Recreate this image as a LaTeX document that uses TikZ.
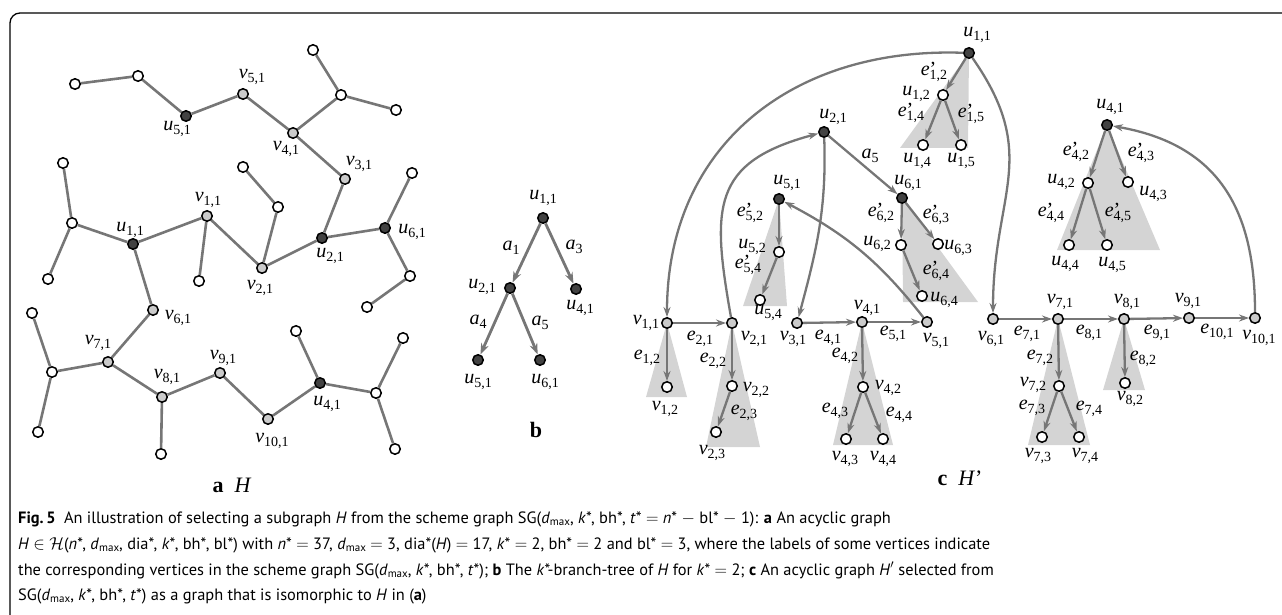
\documentclass[tikz,border=0pt]{standalone}
\usepackage{fontspec}
\setmainfont{Liberation Serif}
\newfontfamily\capfont{PT Sans}
\usetikzlibrary{arrows.meta}
\pgfdeclarelayer{bg}
\pgfsetlayers{bg,main}
\definecolor{edgegray}{RGB}{118,118,118}
\definecolor{nodegray}{RGB}{203,203,203}
\definecolor{nodedark}{RGB}{66,66,66}
\definecolor{trigray}{RGB}{212,212,212}
\newcommand\lfont{\fontsize{20}{20}\selectfont}
\newcommand\lsub[1]{\raisebox{-3.5pt}{\fontsize{14}{14}\selectfont #1}}
\newcommand\lab[2]{\textit{#1}\lsub{#2}}
\newcommand\labp[2]{\textit{#1}\rlap{’}\lsub{#2}}
\newcommand\csub[1]{\raisebox{-2.8pt}{\fontsize{11}{11}\selectfont #1}}
\newcommand\dm{\textit{d}\csub{max}}
\begin{document}
\begin{tikzpicture}[x=1pt,y=-1pt,
  wn/.style={circle,draw=black,line width=1.5pt,fill=white,minimum size=10.5pt,inner sep=0pt},
  gn/.style={wn,fill=nodegray},
  dn/.style={wn,fill=nodedark},
  ed/.style={draw=edgegray,line width=2.6pt},
  ar/.style={draw=edgegray,line width=2.3pt,-{Stealth[length=10pt,width=7pt]}},
  arb/.style={ar,line width=2.8pt,-{Stealth[length=11pt,width=8pt]}},
  tri/.style={fill=trigray,draw=none},
  lb/.style={inner sep=0pt,font=\lfont},
  captext/.style={inner sep=0pt,anchor=base west,font=\capfont\fontsize{16.4}{19}\selectfont}]
\useasboundingbox (0,0) rectangle (1282,615);
\draw[line width=1.3pt,rounded corners=10pt] (10,615) -- (10,13) -- (1282,13);

% ---------------- panel a ----------------
\node[wn] (aw1) at (75,84) {};
\node[wn] (aw2) at (138,76) {};
\node[dn] (au51) at (186,116) {};
\node[gn] (av51) at (243,94) {};
\node[gn] (av41) at (293,133) {};
\node[wn] (aw3) at (313,50) {};
\node[wn] (aw4) at (341,95) {};
\node[wn] (aw5) at (396,110) {};
\node[gn] (av31) at (345,179) {};
\node[wn] (aw6) at (243,167) {};
\node[wn] (aw7) at (278,207) {};
\node[gn] (av11) at (207,216) {};
\node[dn] (au11) at (133,244) {};
\node[wn] (aw8) at (63,163) {};
\node[wn] (aw9) at (72,223) {};
\node[dn] (au21) at (322,238) {};
\node[dn] (au61) at (385,228) {};
\node[wn] (aw10) at (412,173) {};
\node[wn] (aw11) at (410,276) {};
\node[gn] (av21) at (262,268) {};
\node[wn] (aw12) at (48,279) {};
\node[wn] (aw13) at (199,281) {};
\node[wn] (aw14) at (367,307) {};
\node[gn] (av61) at (153,310) {};
\node[wn] (aw15) at (32,313) {};
\node[gn] (av71) at (108,362) {};
\node[wn] (aw16) at (52,372) {};
\node[wn] (aw17) at (38,432) {};
\node[gn] (av81) at (162,397) {};
\node[wn] (aw18) at (161,454) {};
\node[gn] (av91) at (220,373) {};
\node[gn] (av101) at (268,419) {};
\node[dn] (au41) at (320,383) {};
\node[wn] (aw19) at (296,331) {};
\node[wn] (aw20) at (376,393) {};
\node[wn] (aw21) at (403,338) {};
\node[wn] (aw22) at (395,449) {};
\begin{pgfonlayer}{bg}
\foreach \a/\b in {aw1/aw2,aw2/au51,au51/av51,av51/av41,av41/aw4,aw4/aw3,aw4/aw5,
  av41/av31,av31/au21,au21/au61,au61/aw10,au61/aw11,aw11/aw14,au21/av21,av21/aw7,aw7/aw6,
  av21/av11,av11/aw13,av11/au11,au11/aw9,aw9/aw8,aw9/aw12,au11/av61,av61/av71,av71/aw16,
  aw16/aw15,aw16/aw17,av71/av81,av81/aw18,av81/av91,av91/av101,av101/au41,au41/aw19,
  au41/aw20,aw20/aw21,aw20/aw22}
  \draw[ed] (\a) -- (\b);
\end{pgfonlayer}
\node[lb] (la_u51) at (177,129) {\lab{u}{5,1}};
\node[lb] (la_v51) at (252,77) {\lab{v}{5,1}};
\node[lb] (la_v41) at (286,149) {\lab{v}{4,1}};
\node[lb] (la_v31) at (359,164) {\lab{v}{3,1}};
\node[lb] (la_v11) at (208,200) {\lab{v}{1,1}};
\node[lb] (la_u11) at (130,230) {\lab{u}{1,1}};
\node[lb] (la_u21) at (330,256) {\lab{u}{2,1}};
\node[lb] (la_u61) at (412,232) {\lab{u}{6,1}};
\node[lb] (la_v21) at (260,288) {\lab{v}{2,1}};
\node[lb] (la_v61) at (178,318) {\lab{v}{6,1}};
\node[lb] (la_v71) at (98,343) {\lab{v}{7,1}};
\node[lb] (la_v81) at (167,377) {\lab{v}{8,1}};
\node[lb] (la_v91) at (223,358) {\lab{v}{9,1}};
\node[lb] (la_v101) at (272,441) {\lab{v}{10,1}};
\node[lb] (la_u41) at (327,404) {\lab{u}{4,1}};
\node[lb,font=\fontsize{22}{22}\selectfont] (la_title) at (232,485) {\textbf{a}\enskip\textit{H}};

% ---------------- panel b ----------------
\node[dn] (bu11) at (543,218) {};
\node[dn] (bu21) at (510,288) {};
\node[dn] (bu41) at (576,289) {};
\node[dn] (bu51) at (478,360) {};
\node[dn] (bu61) at (540,360) {};
\draw[arb] (bu11) -- (bu21);
\draw[arb] (bu11) -- (bu41);
\draw[arb] (bu21) -- (bu51);
\draw[arb] (bu21) -- (bu61);
\node[lb] (lb_u11) at (543,198) {\lab{u}{1,1}};
\node[lb] (lb_u21) at (482,287) {\lab{u}{2,1}};
\node[lb] (lb_u41) at (580,308) {\lab{u}{4,1}};
\node[lb] (lb_a1) at (511,248) {\lab{a}{1}};
\node[lb] (lb_a3) at (574,247) {\lab{a}{3}};
\node[lb] (lb_a4) at (478,322) {\lab{a}{4}};
\node[lb] (lb_a5) at (540,323) {\lab{a}{5}};
\node[lb] (lb_u51) at (478,382) {\lab{u}{5,1}};
\node[lb] (lb_u61) at (545,382) {\lab{u}{6,1}};
\node[lb,font=\fontsize{22}{22}\selectfont] (lb_title) at (536,430) {\textbf{b}};

% ---------------- panel c ----------------
\begin{pgfonlayer}{bg}
\fill[tri] (969,53) -- (900,148) -- (968,148) -- cycle;
\fill[tri] (1107,125) -- (1057,250) -- (1160,250) -- cycle;
\fill[tri] (902,198) -- (903,302) -- (978,302) -- cycle;
\fill[tri] (779,199) -- (743,306) -- (787,306) -- cycle;
\fill[tri] (667,323) -- (646,397) -- (687,397) -- cycle;
\fill[tri] (732,323) -- (706,447) -- (760,447) -- cycle;
\fill[tri] (862,322) -- (833,445) -- (893,445) -- cycle;
\fill[tri] (1058,319) -- (1028,445) -- (1090,445) -- cycle;
\fill[tri] (1124,319) -- (1103,390) -- (1145,390) -- cycle;
\end{pgfonlayer}
\node[dn] (cu11) at (969,53) {};
\node[wn] (cu12) at (943,95) {};
\node[wn] (cu14) at (923,145) {};
\node[wn] (cu15) at (961,145) {};
\node[dn] (cu41) at (1107,125) {};
\node[wn] (cu42) at (1088,183) {};
\node[wn] (cu43) at (1128,182) {};
\node[wn] (cu44) at (1069,245) {};
\node[wn] (cu45) at (1107,245) {};
\node[dn] (cu21) at (824,132) {};
\node[dn] (cu51) at (779,199) {};
\node[wn] (cu52) at (779,252) {};
\node[wn] (cu54) at (760,300) {};
\node[dn] (cu61) at (902,198) {};
\node[wn] (cu62) at (901,245) {};
\node[wn] (cu63) at (938,244) {};
\node[wn] (cu64) at (922,296) {};
\node[gn] (cv11) at (667,323) {};
\node[wn] (cv12) at (667,387) {};
\node[gn] (cv21) at (732,323) {};
\node[wn] (cv22) at (732,386) {};
\node[wn] (cv23) at (716,432) {};
\node[gn] (cv31) at (797,323) {};
\node[gn] (cv41) at (862,322) {};
\node[wn] (cv42) at (863,387) {};
\node[wn] (cv43) at (846,439) {};
\node[wn] (cv44) at (883,439) {};
\node[gn] (cv51) at (927,322) {};
\node[gn] (cv61) at (993,319) {};
\node[gn] (cv71) at (1058,319) {};
\node[wn] (cv72) at (1059,386) {};
\node[wn] (cv73) at (1042,437) {};
\node[wn] (cv74) at (1079,437) {};
\node[gn] (cv81) at (1124,319) {};
\node[wn] (cv82) at (1125,383) {};
\node[gn] (cv91) at (1189,318) {};
\node[gn] (cv101) at (1255,318) {};
\foreach \a/\b in {cu11/cu12,cu12/cu14,cu12/cu15,cu41/cu42,cu41/cu43,cu42/cu44,cu42/cu45,
  cu21/cu61,cu51/cu52,cu52/cu54,cu61/cu62,cu61/cu63,cu62/cu64,
  cv11/cv21,cv11/cv12,cv21/cv22,cv22/cv23,cv31/cv41,cv41/cv51,cv41/cv42,cv42/cv43,cv42/cv44,
  cv61/cv71,cv71/cv81,cv81/cv91,cv91/cv101,cv71/cv72,cv72/cv73,cv72/cv74,cv81/cv82}
  \draw[ar] (\a) -- (\b);
\draw[ar] (cu11) to[out=178,in=90,looseness=1.1] (cv11);
\draw[ar] (cv21) to[out=100,in=195,looseness=1.4] (cu21);
\draw[ar] (cu21) to[out=-88,in=75] (cv31);
\draw[ar] (cv51) to[bend right=12] (cu51);
\draw[ar] (cu11) to[out=-55,in=90,looseness=1.2] (cv61);
\draw[ar] (cv101) to[out=90,in=-10,looseness=1.15] (cu41);

\node[lb] (lc_u11) at (977,35) {\lab{u}{1,1}};
\node[lb] (lc_e12p) at (934,72) {\labp{e}{1,2}};
\node[lb] (lc_u12) at (916,94) {\lab{u}{1,2}};
\node[lb] (lc_e14p) at (911,113) {\labp{e}{1,4}};
\node[lb] (lc_e15p) at (971,114) {\labp{e}{1,5}};
\node[lb] (lc_u14) at (917,161) {\lab{u}{1,4}};
\node[lb] (lc_u15) at (961,161) {\lab{u}{1,5}};
\node[lb] (lc_u41) at (1110,107) {\lab{u}{4,1}};
\node[lb] (lc_e42p) at (1076,152) {\labp{e}{4,2}};
\node[lb] (lc_e43p) at (1141,153) {\labp{e}{4,3}};
\node[lb] (lc_u42) at (1061,182) {\lab{u}{4,2}};
\node[lb] (lc_u43) at (1153,194) {\lab{u}{4,3}};
\node[lb] (lc_e44p) at (1051,213) {\labp{e}{4,4}};
\node[lb] (lc_e45p) at (1118,213) {\labp{e}{4,5}};
\node[lb] (lc_u44) at (1065,264) {\lab{u}{4,4}};
\node[lb] (lc_u45) at (1112,265) {\lab{u}{4,5}};
\node[lb] (lc_u21) at (833,117) {\lab{u}{2,1}};
\node[lb] (lc_a5) at (870,156) {\lab{a}{5}};
\node[lb] (lc_u51) at (787,183) {\lab{u}{5,1}};
\node[lb] (lc_e52p) at (750,213) {\labp{e}{5,2}};
\node[lb] (lc_u52) at (752,247) {\lab{u}{5,2}};
\node[lb] (lc_e54p) at (748,265) {\labp{e}{5,4}};
\node[lb] (lc_u54) at (768,313) {\lab{u}{5,4}};
\node[lb] (lc_u61) at (908,183) {\lab{u}{6,1}};
\node[lb] (lc_e62p) at (881,213) {\labp{e}{6,2}};
\node[lb] (lc_e63p) at (936,215) {\labp{e}{6,3}};
\node[lb] (lc_u62) at (877,244) {\lab{u}{6,2}};
\node[lb] (lc_u63) at (958,248) {\lab{u}{6,3}};
\node[lb] (lc_e64p) at (936,271) {\labp{e}{6,4}};
\node[lb] (lc_u64) at (944,300) {\lab{u}{6,4}};
\node[lb] (lc_v11) at (646,323) {\lab{v}{1,1}};
\node[lb] (lc_e21) at (700,339) {\lab{e}{2,1}};
\node[lb] (lc_v21) at (754,339) {\lab{v}{2,1}};
\node[lb] (lc_e12) at (647,358) {\lab{e}{1,2}};
\node[lb] (lc_v12) at (665,409) {\lab{v}{1,2}};
\node[lb] (lc_e22) at (713,361) {\lab{e}{2,2}};
\node[lb] (lc_v22) at (756,390) {\lab{v}{2,2}};
\node[lb] (lc_e23) at (744,413) {\lab{e}{2,3}};
\node[lb] (lc_v23) at (712,453) {\lab{v}{2,3}};
\node[lb] (lc_v31) at (793,339) {\lab{v}{3,1}};
\node[lb] (lc_e41) at (828,338) {\lab{e}{4,1}};
\node[lb] (lc_v41) at (867,308) {\lab{v}{4,1}};
\node[lb] (lc_e42) at (845,356) {\lab{e}{4,2}};
\node[lb] (lc_e51) at (893,334) {\lab{e}{5,1}};
\node[lb] (lc_v42) at (888,388) {\lab{v}{4,2}};
\node[lb] (lc_e43) at (835,411) {\lab{e}{4,3}};
\node[lb] (lc_e44) at (899,415) {\lab{e}{4,4}};
\node[lb] (lc_v43) at (845,459) {\lab{v}{4,3}};
\node[lb] (lc_v44) at (883,459) {\lab{v}{4,4}};
\node[lb] (lc_v51) at (936,341) {\lab{v}{5,1}};
\node[lb] (lc_v61) at (991,339) {\lab{v}{6,1}};
\node[lb] (lc_e71) at (1027,334) {\lab{e}{7,1}};
\node[lb] (lc_v71) at (1060,302) {\lab{v}{7,1}};
\node[lb] (lc_e81) at (1089,333) {\lab{e}{8,1}};
\node[lb] (lc_v81) at (1127,302) {\lab{v}{8,1}};
\node[lb] (lc_e91) at (1157,333) {\lab{e}{9,1}};
\node[lb] (lc_v91) at (1188,301) {\lab{v}{9,1}};
\node[lb] (lc_e101) at (1217,332) {\lab{e}{10,1}};
\node[lb] (lc_v101) at (1259,338) {\lab{v}{10,1}};
\node[lb] (lc_e72) at (1040,358) {\lab{e}{7,2}};
\node[lb] (lc_v72) at (1033,385) {\lab{v}{7,2}};
\node[lb] (lc_e73) at (1032,408) {\lab{e}{7,3}};
\node[lb] (lc_e74) at (1089,409) {\lab{e}{7,4}};
\node[lb] (lc_v73) at (1038,456) {\lab{v}{7,3}};
\node[lb] (lc_v74) at (1085,456) {\lab{v}{7,4}};
\node[lb] (lc_e82) at (1143,359) {\lab{e}{8,2}};
\node[lb] (lc_v82) at (1130,399) {\lab{v}{8,2}};
\node[lb,font=\fontsize{22}{22}\selectfont] (lc_title) at (960,478) {\textbf{c}\enskip\textit{H}’};

% ---------------- caption ----------------
\node[captext] (cap1) at (18,523) {\textbf{Fig.\,5}\enskip An illustration of selecting a subgraph \textit{H} from the scheme graph SG(\dm, \textit{k}*, bh*, \textit{t}* $=$ \textit{n}* $-$ bl* $-$ 1): \textbf{a} An acyclic graph};
\node[captext] (cap2) at (18,549) {\textit{H} $\in$ $\mathcal{H}$(\textit{n}*, \dm, dia*, \textit{k}*, bh*, bl*) with \textit{n}* $=$ 37, \dm{} $=$ 3, dia*(\textit{H}) $=$ 17, \textit{k}* $=$ 2, bh* $=$ 2 and bl* $=$ 3, where the labels of some vertices indicate};
\node[captext] (cap3) at (18,575) {the corresponding vertices in the scheme graph SG(\dm, \textit{k}*, bh*, \textit{t}*); \textbf{b} The \textit{k}*-branch-tree of \textit{H} for \textit{k}* $=$ 2; \textbf{c} An acyclic graph \textit{H}$'$ selected from};
\node[captext] (cap4) at (18,600) {SG(\dm, \textit{k}*, bh*, \textit{t}*) as a graph that is isomorphic to \textit{H} in (\textbf{a})};
\end{tikzpicture}
\end{document}
